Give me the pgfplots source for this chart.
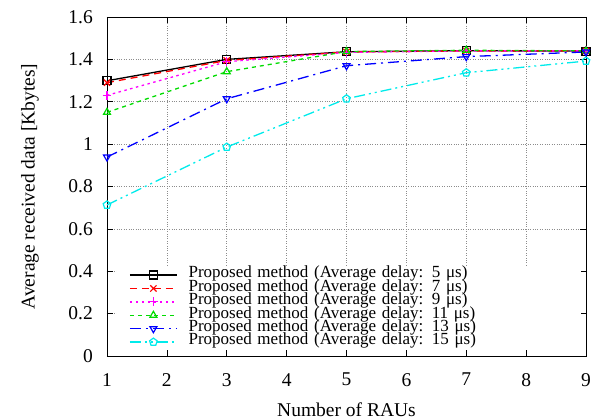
\documentclass[border=0pt]{standalone}
\usepackage{fontspec}
\setmainfont{Liberation Serif}
\usepackage{pgfplots}
\pgfplotsset{compat=1.18}
\definecolor{gred}{RGB}{255,0,0}
\definecolor{gmag}{RGB}{255,0,255}
\definecolor{ggreen}{RGB}{0,220,0}
\definecolor{gblue}{RGB}{0,0,255}
\definecolor{gcyan}{RGB}{0,235,235}
\begin{document}
\begin{tikzpicture}
\begin{axis}[
  scale only axis,
  width=479bp, height=339bp,
  xmin=1, xmax=9, ymin=0, ymax=1.6,
  xtick={1,2,...,9},
  ytick={0,0.2,0.4,0.6,0.8,1,1.2,1.4,1.6},
  yticklabels={0,0.2,0.4,0.6,0.8,1,1.2,1.4,1.6},
  /pgf/number format/assume math mode=true,
  tick align=inside,
  major tick length=6bp,
  xtick pos=both, ytick pos=both,
  grid=major,
  major grid style={dotted, line width=0.6bp, black!45},
  axis line style={line width=0.8bp},
  tick style={line width=0.6bp, black},
  ticklabel style={font=\fontsize{19.5bp}{22bp}\selectfont, inner sep=0pt},
  xticklabel shift=17bp,
  yticklabel shift=14bp,
  xlabel={Number of RAUs},
  ylabel={Average received data [Kbytes]},
  label style={font=\fontsize{19.5bp}{22bp}\selectfont},
  xlabel style={at={(axis description cs:0.5,-0.177)}, anchor=base, inner sep=0pt},
  ylabel style={at={(axis description cs:-0.161,0.5)}, anchor=center, inner sep=0pt},
  legend cell align=left,
  legend style={
    at={(axis description cs:0.021,0.262)}, anchor=north west,
    draw=none, fill=white, inner xsep=12bp, inner ysep=1bp,
    row sep=0pt, column sep=11bp,
    font=\fontsize{17bp}{17bp}\selectfont,
    nodes={inner sep=0pt, text height=9.5bp, text depth=3.9bp, text width=380bp, align=left},
  },
  legend image code/.code={
    \draw[mark repeat=2, mark phase=2] plot coordinates {(0bp,0bp) (23.5bp,0bp) (47bp,0bp)};
  },
  every axis plot/.append style={line width=1.3bp, mark size=4bp, mark options={solid, line width=1.2bp}},
]
\addplot[black, solid, mark=square] coordinates {(1,1.299) (3,1.400) (5,1.436) (7,1.441) (9,1.439)};
\addlegendentry{Proposed method (Average delay: 5 μs)}
\addplot[gred, dash pattern=on 7bp off 5bp, mark=x, mark options={solid, line width=1.2bp, scale=1.1}] coordinates {(1,1.290) (3,1.395) (5,1.435) (7,1.440) (9,1.440)};
\addlegendentry{Proposed method (Average delay: 7 μs)}
\addplot[gmag, dash pattern=on 2.5bp off 3.5bp, mark=+, mark options={solid, line width=1.2bp, scale=1.1}] coordinates {(1,1.230) (3,1.389) (5,1.433) (7,1.440) (9,1.440)};
\addlegendentry{Proposed method (Average delay: 9 μs)}
\addplot[ggreen, dash pattern=on 4bp off 4bp, mark=triangle] coordinates {(1,1.150) (3,1.342) (5,1.437) (7,1.443) (9,1.440)};
\addlegendentry{Proposed method (Average delay: 11 μs)}
\addplot[gblue, dash pattern=on 11bp off 5bp on 2bp off 5bp, mark=triangle, mark options={solid, line width=1.2bp, rotate=180}] coordinates {(1,0.939) (3,1.214) (5,1.370) (7,1.413) (9,1.435)};
\addlegendentry{Proposed method (Average delay: 13 μs)}
\addplot[gcyan, dash pattern=on 11bp off 4bp on 2bp off 4bp on 2bp off 4bp, mark=pentagon] coordinates {(1,0.713) (3,0.986) (5,1.214) (7,1.337) (9,1.392)};
\addlegendentry{Proposed method (Average delay: 15 μs)}
\end{axis}
\pgfresetboundingbox
\path ([shift={(-107bp,-63bp)}]current axis.south west) rectangle ([shift={(17bp,17bp)}]current axis.north east);
\end{tikzpicture}
\end{document}
